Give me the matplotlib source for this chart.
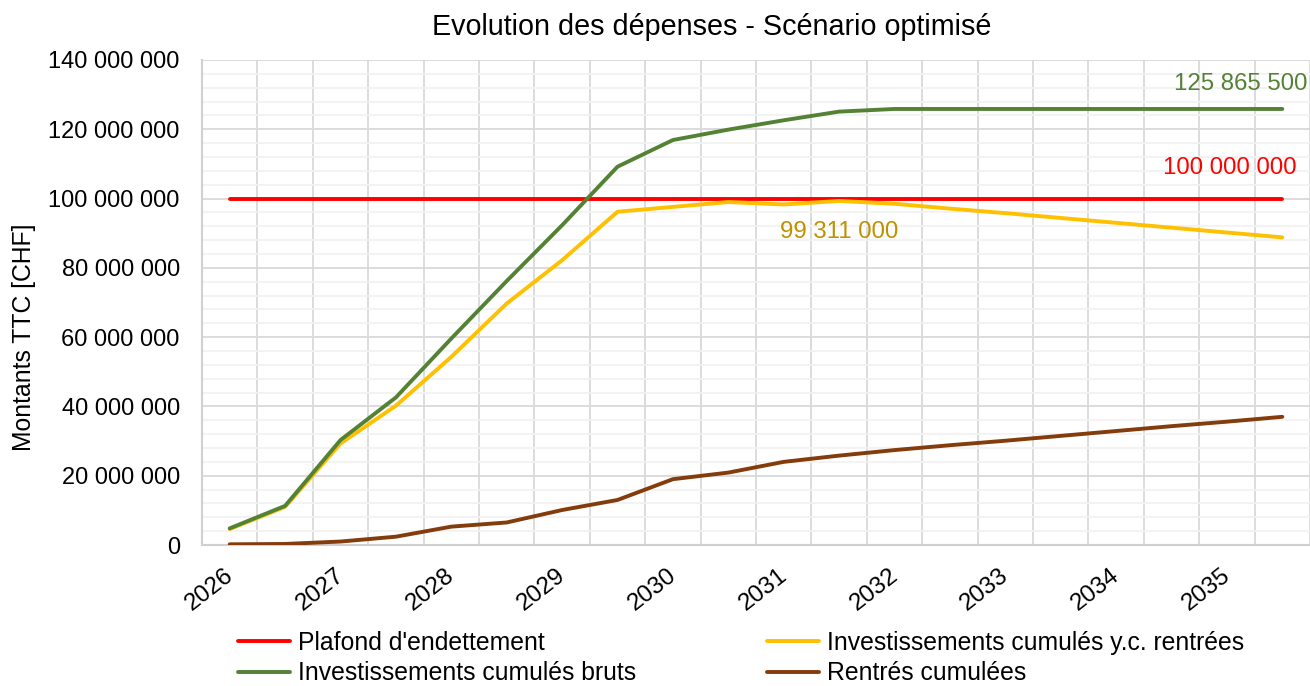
import matplotlib
matplotlib.use("Agg")
import matplotlib.pyplot as plt
import matplotlib.transforms as mtransforms
import numpy as np
from matplotlib.ticker import FuncFormatter, MultipleLocator

plt.rcParams['font.family'] = ['Liberation Sans', 'DejaVu Sans']

# half-year periods, labelled every second one
years = ['2026', '2027', '2028', '2029', '2030', '2031', '2032', '2033', '2034', '2035']
n_periods = 20

plafond = [100.0] * n_periods
bruts = [4.8, 11.3, 30.3, 42.6, 59.6, 76.2, 92.3, 109.2, 116.9, 119.9,
         122.6, 125.1, 125.8655, 125.8655, 125.8655, 125.8655, 125.8655, 125.8655, 125.8655, 125.8655]
yc_rentrees = [4.6, 11.0, 29.3, 40.2, 54.3, 69.7, 82.2, 96.2, 97.6, 99.0,
               98.3, 99.311, 98.5, 97.1, 95.8, 94.4, 93.0, 91.6, 90.2, 88.8]
rentrees = [0.2, 0.3, 1.0, 2.4, 5.3, 6.5, 10.1, 13.0, 19.0, 20.9,
            24.0, 25.8, 27.4, 28.8, 30.1, 31.5, 32.9, 34.3, 35.6, 37.0]

labels = ['Plafond d\'endettement', 'Investissements cumulés bruts',
          'Investissements cumulés y.c. rentrées', 'Rentrés cumulées']
colors = ['#FF0000', '#548235', '#FFC000', '#843C0C']

x = np.arange(n_periods)
to_chf = lambda s: np.array(s) * 1e6

fig = plt.figure(figsize=(13.1, 6.86), dpi=100)
ax = fig.add_axes([202 / 1310, 1 - 545 / 686, 1 - 202 / 1310, (545 - 60) / 686])

lines = []
for series, lab, col in zip([plafond, bruts, yc_rentrees, rentrees], labels, colors):
    ln, = ax.plot(x, to_chf(series), color=col, lw=2.8, label=lab,
                  solid_capstyle='round', solid_joinstyle='round', zorder=3)
    lines.append(ln)
# draw order like Excel: plafond first, then y.c., bruts, rentrées on top
lines[2].set_zorder(3.1)
lines[1].set_zorder(3.2)

ax.set_xlim(-0.5, n_periods - 0.5)
ax.set_ylim(0, 140e6)

ax.set_xticks(x[::2])
ax.set_xticklabels(years, rotation=38, ha='right', va='top', rotation_mode='anchor')
ax.set_xticks(np.arange(-0.5, n_periods, 1.0), minor=True)
ax.yaxis.set_major_locator(MultipleLocator(20e6))
ax.yaxis.set_minor_locator(MultipleLocator(4e6))
ax.yaxis.set_major_formatter(FuncFormatter(lambda v, p: f"{int(round(v)):,}".replace(',', ' ')))

ax.tick_params(axis='both', which='both', length=0, labelsize=17, colors='#000000')
ax.tick_params(axis='x', pad=14)
ax.tick_params(axis='y', pad=16)
shift = mtransforms.ScaledTranslation(-6 / 100, 0, fig.dpi_scale_trans)
for lbl in ax.get_xticklabels():
    lbl.set_fontsize(17.5)
    lbl.set_transform(lbl.get_transform() + shift)

ax.xaxis.grid(True, which='minor', color='#D9D9D9', lw=1.3)
ax.yaxis.grid(True, which='minor', color='#F2F2F2', lw=1.3)
ax.yaxis.grid(True, which='major', color='#D9D9D9', lw=1.3)
ax.set_axisbelow(True)
for side in ['top', 'right']:
    ax.spines[side].set_visible(False)
for side in ['left', 'bottom']:
    ax.spines[side].set_color('#D0D0D0')
    ax.spines[side].set_linewidth(1.5)

ax.annotate('125 865 500', (x[-1], to_chf(bruts)[-1]), xytext=(25, 14), textcoords='offset pixels',
            ha='right', va='bottom', fontsize=17.3, color='#548235')
ax.annotate('100 000 000', (x[-1], to_chf(plafond)[-1]), xytext=(14, 31), textcoords='offset pixels',
            ha='right', va='center', fontsize=17.3, color='#FF0000')
ax.annotate('99 311 000', (x[11], to_chf(yc_rentrees)[11]), xytext=(0, -31), textcoords='offset pixels',
            ha='center', va='center', fontsize=17.3, color='#BF9000')

fig.text(712 / 1310, 1 - 27 / 686, 'Evolution des dépenses - Scénario optimisé', ha='center', va='center', fontsize=20.7)
fig.text(24 / 1310, 1 - 337 / 686, 'Montants TTC [CHF]', rotation=90, ha='center', va='center', fontsize=17.8)

fig.legend(handles=lines, ncol=2, loc='center left', bbox_to_anchor=(226 / 1310, 1 - 658 / 686),
           frameon=False, fontsize=17.8, handlelength=2.1, handletextpad=0.32,
           labelspacing=0.27, columnspacing=5.3, borderpad=0)

fig.savefig('out.png', dpi=100)
